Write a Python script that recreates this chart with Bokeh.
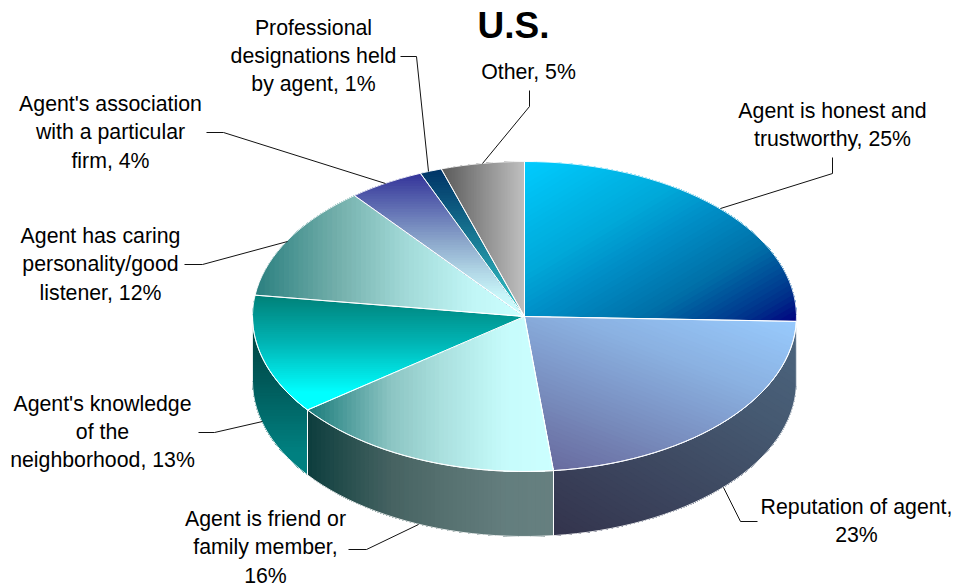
import math
from bokeh.plotting import figure
from bokeh.models import Range1d
from bokeh.core.properties import value
from bokeh.embed import file_html
from bokeh.resources import INLINE

# ---- data
categories = ["Agent is honest and\ntrustworthy", "Reputation of agent,", "Agent is friend or\nfamily member,",
              "Agent's knowledge\nof the\nneighborhood", "Agent has caring\npersonality/good\nlistener",
              "Agent's association\nwith a particular\nfirm", "Professional\ndesignations held\nby agent", "Other"]
shares = [25.5, 22.8, 16.4, 12.5, 12.05, 4.5, 1.3, 4.95]
shown_pct = ["25%", "23%", "16%", "13%", "12%", "4%", "1%", "5%"]
title = "U.S."

# ---- layout (pixels)
CX, CY, RX, RY, DEPTH = 524.0, 316.0, 272.0, 155.0, 65.0
LABEL_X = [832, 856, 265, 102, 100, 110, 313, 528]
LABEL_Y = [124.5, 520.5, 547, 431.5, 264, 132, 55.5, 71]
LEADERS = [
    [(720, 208), (832, 173), (832, 157)],
    [(723, 487), (740, 521), (757, 521)],
    [(418, 524), (366, 549), (348, 549)],
    [(262, 421), (214, 432), (198, 432)],
    [(287, 241), (202, 264), (184, 264)],
    [(385, 183), (223, 132), (206, 132)],
    [(428, 171), (416, 56), (400, 56)],
    [(482, 163), (529, 106), (529, 90)],
]

# ---- gradients: weights over the bounding box (x, y), then colour stops
GRADS = [
    ((0.5, 0.5), [(0, "#00CCFF"), (0.354, "#00A8D8"), (0.484, "#0090C8"), (0.7, "#0070A8"), (0.9, "#00308A"), (1, "#000080")]),
    ((-0.40, 0.60), [(0, "#99CCFF"), (0.35, "#8AB0E0"), (1, "#666699")]),
    ((1, 0), [(0, "#1A7A7A"), (0.34, "#8CC5C3"), (0.54, "#A9DFDD"), (0.8, "#C6FBFB"), (1, "#CCFFFF")]),
    ((0, 1), [(0, "#008078"), (0.42, "#00B5B5"), (0.85, "#00FFFF"), (1, "#00FFFF")]),
    ((1, 0), [(0, "#2A7F7F"), (0.3, "#72AEAA"), (0.55, "#A0D8D6"), (0.8, "#C0F5F5"), (1, "#CCFFFF")]),
    ((0, 1), [(0, "#333399"), (0.47, "#8AA5CA"), (0.68, "#B0D5E5"), (0.85, "#C8F5F8"), (1, "#CCFFFF")]),
    ((0, 1), [(0, "#003366"), (0.6, "#1F8CA0"), (1, "#33CCCC")]),
    ((1, 0), [(0, "#5A5A5A"), (1, "#C0C0C0")]),
]
BANDS = 56


def rgb(h):
    return tuple(int(h[i:i + 2], 16) for i in (1, 3, 5))


def colour(stops, t, k=1.0):
    for (t0, c0), (t1, c1) in zip(stops, stops[1:]):
        if t <= t1:
            f = (t - t0) / (t1 - t0) if t1 > t0 else 0
            a, b = rgb(c0), rgb(c1)
            return "#%02x%02x%02x" % tuple(round((a[i] + (b[i] - a[i]) * f) * k) for i in range(3))
    a = rgb(stops[-1][1])
    return "#%02x%02x%02x" % tuple(round(v * k) for v in a)


def rim(theta, dy=0.0):
    return (CX + RX * math.sin(theta), CY - RY * math.cos(theta) + dy)


def arc(a, b, dy=0.0):
    n = max(2, int(abs(b - a) / math.radians(2.5)) + 1)
    return [rim(a + (b - a) * i / n, dy) for i in range(n + 1)]


def clip(poly, f, level):
    out = []
    for i, p in enumerate(poly):
        q = poly[(i + 1) % len(poly)]
        fp, fq = f(p) - level, f(q) - level
        if fp >= 0:
            out.append(p)
        if (fp >= 0) != (fq >= 0):
            s = fp / (fp - fq)
            out.append((p[0] + (q[0] - p[0]) * s, p[1] + (q[1] - p[1]) * s))
    return out


def painted(poly, grad, k=1.0):
    (wx, wy), stops = grad
    xs = [p[0] for p in poly]
    ys = [p[1] for p in poly]
    x0, y0 = min(xs), min(ys)
    w, h = max(xs) - x0 or 1, max(ys) - y0 or 1
    off = (-wx if wx < 0 else 0) + (-wy if wy < 0 else 0)

    def f(p):
        return wx * (p[0] - x0) / w + wy * (p[1] - y0) / h + off

    X, Y, C = [], [], []
    for i in range(BANDS):
        piece = poly if i == 0 else clip(poly, f, i / BANDS)
        if len(piece) < 3:
            continue
        X.append([p[0] for p in piece])
        Y.append([p[1] for p in piece])
        C.append(colour(stops, (i + 0.5) / BANDS, k))
    return X, Y, C


p = figure(width=956, height=586, output_backend="svg", toolbar_location=None,
           x_range=Range1d(0, 956), y_range=Range1d(586, 0),
           min_border=0, outline_line_color=None, margin=(0, 0, 0, 0))
p.axis.visible = False
p.grid.visible = False
p.background_fill_color = "white"
p.border_fill_color = "white"

total = sum(shares)
cuts = [0.0]
for s in shares:
    cuts.append(cuts[-1] + s / total * 2 * math.pi)

outline_x, outline_y = [], []
# side walls: only the front half of the rim shows
for i in range(len(shares)):
    a, b = max(cuts[i], math.pi / 2), min(cuts[i + 1], 3 * math.pi / 2)
    if b - a < math.radians(3):
        continue
    poly = arc(a, b) + arc(b, a, DEPTH)
    X, Y, C = painted(poly, GRADS[i], 0.5)
    p.patches(xs=X, ys=Y, fill_color=C, line_color=None)
    outline_x.append([q[0] for q in poly])
    outline_y.append([q[1] for q in poly])

# top faces
for i in range(len(shares)):
    poly = [(CX, CY)] + arc(cuts[i], cuts[i + 1])
    X, Y, C = painted(poly, GRADS[i])
    p.patches(xs=X, ys=Y, fill_color=C, line_color=None)
    outline_x.append([q[0] for q in poly])
    outline_y.append([q[1] for q in poly])

p.patches(xs=outline_x, ys=outline_y, fill_alpha=0, line_color="white", line_width=1.0, line_alpha=0.9)

for pts in LEADERS:
    p.line([q[0] for q in pts], [q[1] for q in pts], line_color="#111111", line_width=1)

texts = [c + ("\n" if c.endswith(",") else ", ") + v for c, v in zip(categories, shown_pct)]
p.text(x=LABEL_X, y=LABEL_Y, text=texts, text_align="center", text_baseline="middle",
       text_font=value("Liberation Sans"), text_font_size="21.3px", text_color="black",
       text_line_height=1.17)
p.text(x=[513], y=[25], text=[title], text_align="center", text_baseline="middle",
       text_font=value("Liberation Sans"), text_font_size="37px", text_font_style="bold", text_color="black")

open("out.html", "w").write(file_html(p, INLINE))
